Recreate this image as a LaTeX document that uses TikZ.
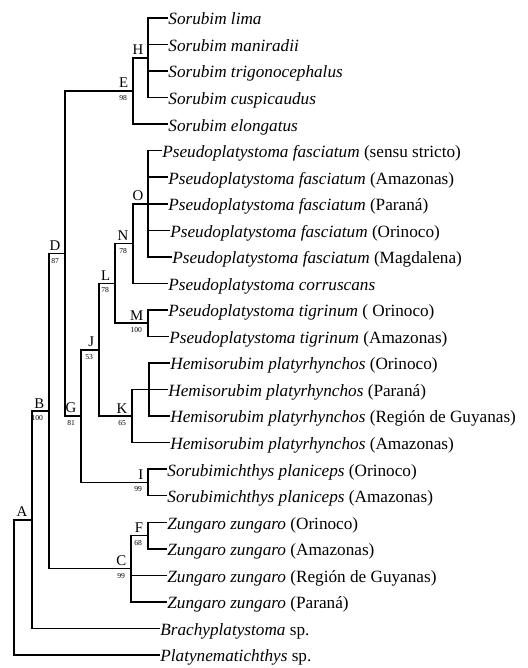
\documentclass[tikz,border=0pt]{standalone}
\usepackage{fontspec}
\setmainfont{Liberation Serif}
\begin{document}
\begin{tikzpicture}[x=0.5pt,y=-0.5pt,
 sp/.style={anchor=west,inner sep=0pt,text height=1.6ex,text depth=0.1ex,font=\fontsize{8.6}{10}\selectfont},
 lab/.style={anchor=south east,inner sep=0pt,xshift=-2.2pt,yshift=1.3pt,font=\fontsize{7.4}{8}\selectfont},
 bs/.style={anchor=north east,inner sep=0pt,xshift=-2.8pt,yshift=-2pt,font=\fontsize{3.8}{4}\selectfont},
 br/.style={line width=0.75pt}]
 \useasboundingbox (0,0) rectangle (527,668);
 \node[sp] (l1) at (168,18) {\textit{Sorubim lima}};
 \node[sp] (l2) at (168,44.5) {\textit{Sorubim maniradii}};
 \node[sp] (l3) at (168,71.1) {\textit{Sorubim trigonocephalus}};
 \node[sp] (l4) at (168,97.6) {\textit{Sorubim cuspicaudus}};
 \node[sp] (l5) at (168,124.2) {\textit{Sorubim elongatus}};
 \node[sp] (l6) at (162,150.7) {\textit{Pseudoplatystoma fasciatum} (sensu stricto)};
 \node[sp] (l7) at (168,177.2) {\textit{Pseudoplatystoma fasciatum} (Amazonas)};
 \node[sp] (l8) at (168,203.8) {\textit{Pseudoplatystoma fasciatum} (Paraná)};
 \node[sp] (l9) at (170,230.3) {\textit{Pseudoplatystoma fasciatum} (Orinoco)};
 \node[sp] (l10) at (172,256.9) {\textit{Pseudoplatystoma fasciatum} (Magdalena)};
 \node[sp] (l11) at (168,283.4) {\textit{Pseudoplatystoma corruscans}};
 \node[sp] (l12) at (168,309.9) {\textit{Pseudoplatystoma tigrinum} ( Orinoco)};
 \node[sp] (l13) at (169,336.5) {\textit{Pseudoplatystoma tigrinum} (Amazonas)};
 \node[sp] (l14) at (170,363.0) {\textit{Hemisorubim platyrhynchos} (Orinoco)};
 \node[sp] (l15) at (168,389.6) {\textit{Hemisorubim platyrhynchos} (Paraná)};
 \node[sp] (l16) at (170,416.1) {\textit{Hemisorubim platyrhynchos} (Región de Guyanas)};
 \node[sp] (l17) at (170,442.6) {\textit{Hemisorubim platyrhynchos} (Amazonas)};
 \node[sp] (l18) at (167,469.2) {\textit{Sorubimichthys planiceps} (Orinoco)};
 \node[sp] (l19) at (167,495.7) {\textit{Sorubimichthys planiceps} (Amazonas)};
 \node[sp] (l20) at (167,522.3) {\textit{Zungaro zungaro} (Orinoco)};
 \node[sp] (l21) at (167,548.8) {\textit{Zungaro zungaro} (Amazonas)};
 \node[sp] (l22) at (167,575.3) {\textit{Zungaro zungaro} (Región de Guyanas)};
 \node[sp] (l23) at (167,601.9) {\textit{Zungaro zungaro} (Paraná)};
 \node[sp] (l24) at (160,628.4) {\textit{Brachyplatystoma} sp.};
 \node[sp] (l25) at (160,655) {\textit{Platynematichthys} sp.};
 \coordinate (R) at (14,587.4);
 \coordinate (A) at (32,519.8);
 \coordinate (B) at (49,411.2);
 \coordinate (C) at (131,568.7);
 \coordinate (D) at (65,253.6);
 \coordinate (E) at (133,91);
 \coordinate (F) at (148,535.6);
 \coordinate (G) at (81,416.1);
 \coordinate (H) at (148,57.8);
 \coordinate (I) at (148,482.5);
 \coordinate (J) at (99,349.8);
 \coordinate (K) at (132,416.1);
 \coordinate (K2) at (149,389.6);
 \coordinate (L) at (115,283.4);
 \coordinate (M) at (148,323.2);
 \coordinate (N) at (133,243.6);
 \coordinate (O) at (148,203.8);
 \draw[br] (R) |- (A); \draw[br] (R) |- (l25.west);
 \draw[br] (A) |- (B); \draw[br] (A) |- (l24.west);
 \draw[br] (B) |- (D); \draw[br] (B) |- (C);
 \draw[br] (D) |- (E); \draw[br] (D) |- (G);
 \draw[br] (E) |- (H); \draw[br] (E) |- (l5.west);
 \draw[br] (H) |- (l1.west); \draw[br] (H) |- (l2.west);
 \draw[br] (H) |- (l3.west); \draw[br] (H) |- (l4.west);
 \draw[br] (G) |- (J); \draw[br] (G) |- (I);
 \draw[br] (J) |- (L); \draw[br] (J) |- (K);
 \draw[br] (L) |- (N); \draw[br] (L) |- (M);
 \draw[br] (N) |- (O); \draw[br] (N) |- (l11.west);
 \draw[br] (O) |- (l6.west); \draw[br] (O) |- (l7.west);
 \draw[br] (O) |- (l8.west); \draw[br] (O) |- (l9.west);
 \draw[br] (O) |- (l10.west);
 \draw[br] (M) |- (l12.west); \draw[br] (M) |- (l13.west);
 \draw[br] (K) |- (K2); \draw[br] (K) |- (l17.west);
 \draw[br] (K2) |- (l14.west); \draw[br] (K2) |- (l15.west);
 \draw[br] (K2) |- (l16.west);
 \draw[br] (I) |- (l18.west); \draw[br] (I) |- (l19.west);
 \draw[br] (C) |- (F); \draw[br] (C) |- (l22.west);
 \draw[br] (C) |- (l23.west);
 \draw[br] (F) |- (l20.west); \draw[br] (F) |- (l21.west);
 \node[lab] (tA) at (A) {A};
 \node[lab] (tB) at (B) {B}; \node[bs] (bB) at (B) {100};
 \node[lab] (tC) at (C) {C}; \node[bs] (bC) at (C) {99};
 \node[lab] (tD) at (D) {D}; \node[bs] (bD) at (D) {87};
 \node[lab] (tE) at (E) {E}; \node[bs] (bE) at (E) {98};
 \node[lab] (tF) at (F) {F}; \node[bs] (bF) at (F) {68};
 \node[lab] (tG) at (G) {G}; \node[bs] (bG) at (G) {81};
 \node[lab] (tH) at (H) {H};
 \node[lab] (tI) at (I) {I}; \node[bs] (bI) at (I) {99};
 \node[lab] (tJ) at (J) {J}; \node[bs] (bJ) at (J) {53};
 \node[lab] (tK) at (K) {K}; \node[bs] (bK) at (K) {65};
 \node[lab] (tL) at (L) {L}; \node[bs] (bL) at (L) {78};
 \node[lab] (tM) at (M) {M}; \node[bs] (bM) at (M) {100};
 \node[lab] (tN) at (N) {N}; \node[bs] (bN) at (N) {78};
 \node[lab] (tO) at (O) {O};
\end{tikzpicture}
\end{document}
